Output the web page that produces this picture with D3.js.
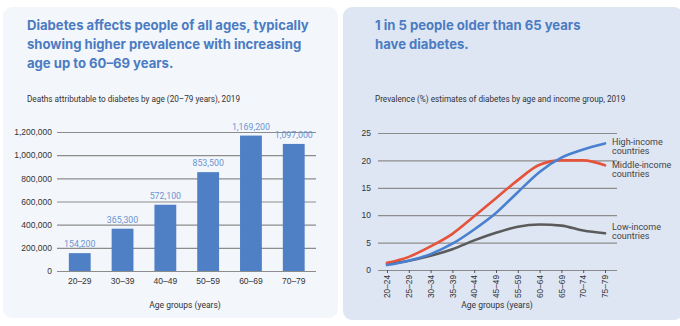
<!DOCTYPE html>
<html>
<head>
<meta charset="utf-8">
<script src="https://cdn.jsdelivr.net/npm/d3@7"></script>
<style>
  body { margin: 0; background: #fff; }
  svg { display: block; font-family: Roboto, "Noto Sans", sans-serif; }
</style>
</head>
<body>
<svg width="680" height="326"></svg>
<script>
// Data for left chart: deaths by age group
const ageGroups = ['20–29', '30–39', '40–49', '50–59', '60–69', '70–79'];
const deaths = [154200, 365300, 572100, 853500, 1169200, 1097000];
const deathTicks = [0, 200000, 400000, 600000, 800000, 1000000, 1200000];

// Data for right chart: prevalence (%) by age and income group
const prevAges = ['20–24', '25–29', '30–34', '35–39', '40–44', '45–49', '55–59', '60–64', '65–69', '70–74', '75–79'];
const highIncome = [0.9, 1.7, 2.9, 4.8, 7.4, 10.4, 14.2, 17.9, 20.5, 22.0, 23.1];
const middleIncome = [1.3, 2.4, 4.3, 6.6, 9.8, 13.1, 16.4, 19.2, 20.0, 20.0, 19.1];
const lowIncome = [1.1, 1.7, 2.6, 3.8, 5.4, 6.8, 7.9, 8.3, 8.1, 7.2, 6.7];
const prevTicks = [0, 5, 10, 15, 20, 25];

const svg = d3.select('svg');
const titleColor = '#4b7cc2';
const gridColor = '#8c8c8c';

// Panels
svg.append('rect')
  .attr('x', 3).attr('y', 7).attr('width', 335).attr('height', 311)
  .attr('rx', 9).attr('fill', '#f3f6fb');
svg.append('rect')
  .attr('x', 343).attr('y', 7).attr('width', 340).attr('height', 313)
  .attr('rx', 9).attr('fill', '#dfe6f3');

// Titles
function title(x, y, lines) {
  const t = svg.append('text')
    .attr('x', x).attr('y', y)
    .style('font-family', 'Inter, Roboto, sans-serif')
    .style('font-weight', 700)
    .style('font-size', '13.1px')
    .attr('fill', titleColor);
  lines.forEach((l, i) => {
    t.append('tspan').attr('x', x).attr('dy', i ? 18.8 : 0).text(l);
  });
}
title(27, 30, ['Diabetes affects people of all ages, typically',
  'showing higher prevalence with increasing',
  'age up to 60–69 years.']);
title(375, 30, ['1 in 5 people older than 65 years', 'have diabetes.']);

svg.append('text').attr('x', 27).attr('y', 102)
  .style('font-size', '8.2px').attr('fill', '#333')
  .text('Deaths attributable to diabetes by age (20–79 years), 2019');
svg.append('text').attr('x', 375).attr('y', 102)
  .style('font-size', '8.2px').attr('fill', '#333')
  .text('Prevalence (%) estimates of diabetes by age and income group, 2019');

// ---- Left bar chart ----
const xBand = d3.scaleBand().domain(ageGroups).range([57.5, 316])
  .paddingInner(0.49).paddingOuter(0.265);
const yDeaths = d3.scaleLinear().domain([0, 1200000]).range([271, 132]);

const yAxisL = svg.append('g')
  .attr('transform', 'translate(57,0)')
  .call(d3.axisLeft(yDeaths).tickValues(deathTicks)
    .tickSize(-259).tickPadding(5).tickFormat(d3.format(',')));
yAxisL.select('.domain').remove();
yAxisL.selectAll('line').attr('stroke', gridColor).attr('stroke-width', 1.2);
yAxisL.selectAll('text').style('font-size', '8.5px').attr('fill', '#333');

svg.append('g').selectAll('rect')
  .data(deaths)
  .join('rect')
  .attr('x', (d, i) => xBand(ageGroups[i]))
  .attr('y', (d) => yDeaths(d))
  .attr('width', xBand.bandwidth())
  .attr('height', (d) => yDeaths(0) - yDeaths(d))
  .attr('fill', '#4f80c5');

svg.append('g').selectAll('text')
  .data(deaths)
  .join('text')
  .attr('x', (d, i) => xBand(ageGroups[i]) + xBand.bandwidth() / 2)
  .attr('y', (d) => yDeaths(d) - 6)
  .attr('text-anchor', 'middle')
  .style('font-size', '8.8px')
  .attr('fill', '#6b95d2')
  .text((d) => d3.format(',')(d));

const xAxisL = svg.append('g')
  .attr('transform', 'translate(0,271)')
  .call(d3.axisBottom(xBand).tickSize(0).tickPadding(7));
xAxisL.select('.domain').remove();
xAxisL.selectAll('text').style('font-size', '8.5px').attr('fill', '#333');

svg.append('text').attr('x', 185).attr('y', 308)
  .attr('text-anchor', 'middle').style('font-size', '8.5px').attr('fill', '#333')
  .text('Age groups (years)');

// ---- Right line chart ----
const xPoint = d3.scalePoint().domain(prevAges).range([387, 605]);
const yPrev = d3.scaleLinear().domain([0, 25]).range([270, 133]);

const yAxisR = svg.append('g')
  .attr('transform', 'translate(378,0)')
  .call(d3.axisLeft(yPrev).tickValues(prevTicks)
    .tickSize(-239).tickPadding(7));
yAxisR.select('.domain').remove();
yAxisR.selectAll('line').attr('stroke', gridColor).attr('stroke-width', 1.2);
yAxisR.selectAll('text').style('font-size', '8.5px').attr('fill', '#333');

const xAxisR = svg.append('g')
  .attr('transform', 'translate(0,270)')
  .call(d3.axisBottom(xPoint).tickSize(3).tickPadding(3));
xAxisR.select('.domain').remove();
xAxisR.selectAll('line').attr('stroke', '#555');
xAxisR.selectAll('text')
  .style('font-size', '8.3px').attr('fill', '#333')
  .attr('transform', 'rotate(-90)')
  .attr('text-anchor', 'end')
  .attr('dy', '0.32em')
  .attr('x', -5).attr('y', 0);

const line = d3.line()
  .x((d, i) => xPoint(prevAges[i]))
  .y((d) => yPrev(d))
  .curve(d3.curveMonotoneX);

const series = [
  { values: lowIncome, color: '#5b5b5b', label: ['Low-income', 'countries'], ly: 230 },
  { values: middleIncome, color: '#e5533b', label: ['Middle-income', 'countries'], ly: 168 },
  { values: highIncome, color: '#4a80d0', label: ['High-income', 'countries'], ly: 145 },
];

series.forEach((s) => {
  svg.append('path')
    .datum(s.values)
    .attr('d', line)
    .attr('fill', 'none')
    .attr('stroke', s.color)
    .attr('stroke-width', 2.6)
    .attr('stroke-linecap', 'round');
  const t = svg.append('text').attr('x', 612).attr('y', s.ly)
    .style('font-size', '9px').attr('fill', '#444');
  s.label.forEach((l, i) => {
    t.append('tspan').attr('x', 612).attr('dy', i ? 9 : 0).text(l);
  });
});

svg.append('text').attr('x', 497).attr('y', 308)
  .attr('text-anchor', 'middle').style('font-size', '8.5px').attr('fill', '#333')
  .text('Age groups (years)');
</script>
</body>
</html>
